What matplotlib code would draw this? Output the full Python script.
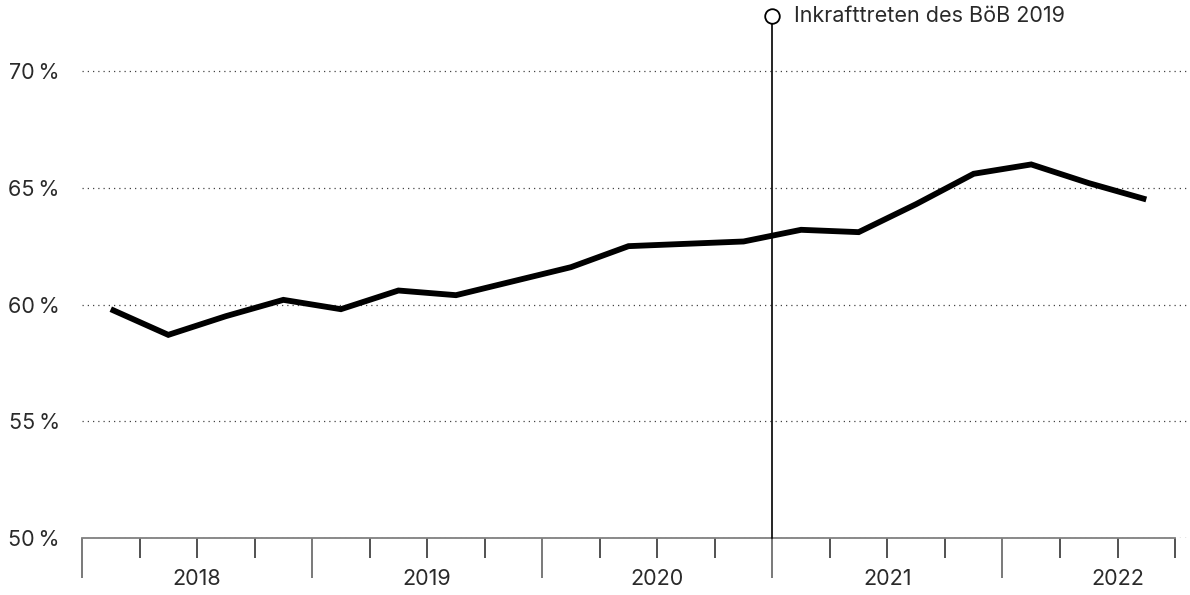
import matplotlib.pyplot as plt
from matplotlib.ticker import FixedLocator, NullFormatter

plt.rcParams['font.family'] = ['Inter', 'DejaVu Sans']

# quarterly share, Q1 2018 .. Q3 2022
quarters = ["2018Q1", "2018Q2", "2018Q3", "2018Q4",
            "2019Q1", "2019Q2", "2019Q3", "2019Q4",
            "2020Q1", "2020Q2", "2020Q3", "2020Q4",
            "2021Q1", "2021Q2", "2021Q3", "2021Q4",
            "2022Q1", "2022Q2", "2022Q3"]
share = [59.8, 58.7, 59.5, 60.2,
         59.8, 60.6, 60.4, 61.0,
         61.6, 62.5, 62.6, 62.7,
         63.2, 63.1, 64.3, 65.6,
         66.0, 65.2, 64.5]
years = ["2018", "2019", "2020", "2021", "2022"]
y_ticks = [50, 55, 60, 65, 70]
event_label = "Inkrafttreten des BöB 2019"
event_quarter = 12  # start of 2021

text_col = "#2a2a2a"
fs = 15.5

fig = plt.figure(figsize=(11.9, 5.95), dpi=100)
ax = fig.add_axes([82 / 1190, 57 / 595, 1 - 82 / 1190, 537 / 595])

n_q = len(quarters)  # 19 quarters on the axis
x = [i + 0.5 for i in range(len(share))]

ax.set_xlim(0, 19.26)
ax.set_ylim(50, 73)

# dotted gridlines
for v in y_ticks:
    ax.axhline(v, color="#444444", lw=0.9, ls=(0, (1, 3.2)), zorder=1)

# event line + marker
ev_top = 72.37
ax.plot([event_quarter, event_quarter], [50, ev_top], color="black", lw=1.2,
        zorder=3, clip_on=False)
ax.plot([event_quarter], [ev_top], marker="o", ms=10.5, mfc="white",
        mec="black", mew=1.3, zorder=4, clip_on=False)
ax.text(event_quarter + 0.37, ev_top, event_label, ha="left", va="center",
        fontsize=fs, color=text_col)

# main line
ax.plot(x, share, color="black", lw=4.2, solid_joinstyle="miter",
        solid_capstyle="butt", zorder=5)

# axes styling
for s in ["top", "right", "left"]:
    ax.spines[s].set_visible(False)
ax.spines["bottom"].set_color("#808080")
ax.spines["bottom"].set_linewidth(1.3)
ax.spines["bottom"].set_bounds(0, n_q)

ax.yaxis.set_major_locator(FixedLocator(y_ticks))
ax.set_yticklabels([f"{v}\u2009%" for v in y_ticks])
ax.tick_params(axis="y", length=0, pad=16, labelsize=fs, labelcolor=text_col)

major_pos = [i * 4 for i in range(len(years))]
minor_pos = [i for i in range(n_q + 1) if i % 4 != 0]
ax.xaxis.set_major_locator(FixedLocator(major_pos))
ax.xaxis.set_minor_locator(FixedLocator(minor_pos))
ax.xaxis.set_major_formatter(NullFormatter())
ax.tick_params(axis="x", which="major", length=29, width=1.1, color="#555555")
ax.tick_params(axis="x", which="minor", length=14.5, width=1.1, color="#222222")

for i, yr in enumerate(years):
    ax.text(i * 4 + 2, 50 - 41 / 23.35, yr, ha="center", va="center",
            fontsize=fs, color=text_col, clip_on=False)

fig.savefig("out.png", dpi=100)
